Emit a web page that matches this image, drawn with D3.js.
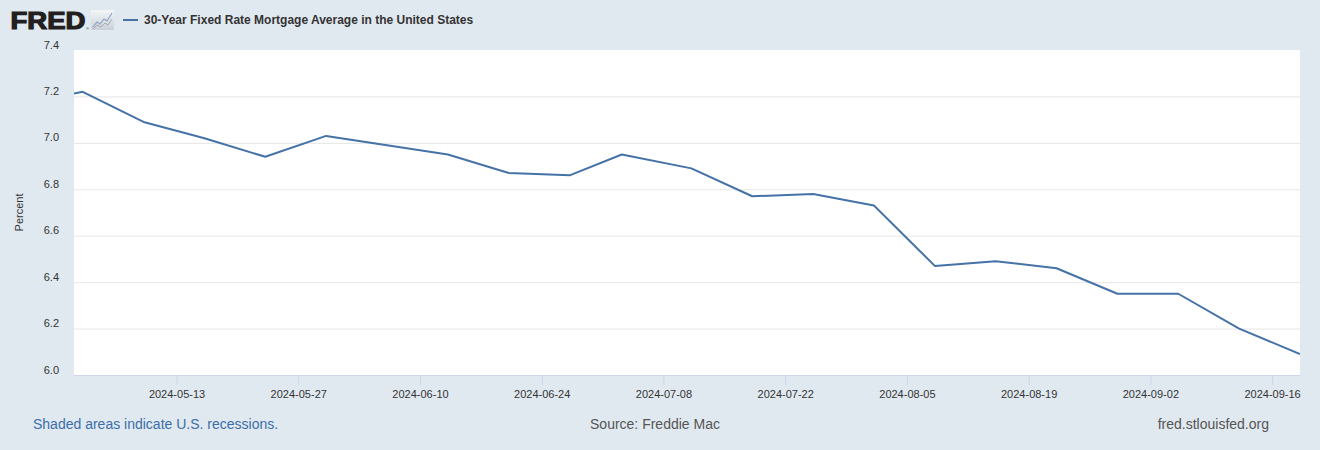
<!DOCTYPE html>
<html>
<head>
<meta charset="utf-8">
<script src="https://cdn.jsdelivr.net/npm/d3@7"></script>
<style>
    html, body { margin: 0; padding: 0; background: #e1e9f0; }
    svg { display: block; font-family: "Liberation Sans", Arial, sans-serif; }
</style>
</head>
<body>
<div id="chart"></div>
<script>
// weekly observations (first one sits left of the visible range and gets clipped)
const dates = [
    '2024-04-25', '2024-05-02', '2024-05-09', '2024-05-16', '2024-05-23', '2024-05-30',
    '2024-06-06', '2024-06-13', '2024-06-20', '2024-06-27', '2024-07-03', '2024-07-11',
    '2024-07-18', '2024-07-25', '2024-08-01', '2024-08-08', '2024-08-15', '2024-08-22',
    '2024-08-29', '2024-09-05', '2024-09-12', '2024-09-19'
];
const rates = [
    7.17, 7.22, 7.09, 7.02, 6.94, 7.03,
    6.99, 6.95, 6.87, 6.86, 6.95, 6.89,
    6.77, 6.78, 6.73, 6.47, 6.49, 6.46,
    6.35, 6.35, 6.20, 6.09
];
const xTickLabels = [
    '2024-05-13', '2024-05-27', '2024-06-10', '2024-06-24', '2024-07-08',
    '2024-07-22', '2024-08-05', '2024-08-19', '2024-09-02', '2024-09-16'
];
const yTickValues = [6.0, 6.2, 6.4, 6.6, 6.8, 7.0, 7.2, 7.4];
const xDomain = ['2024-05-01', '2024-09-19'];

const seriesName = '30-Year Fixed Rate Mortgage Average in the United States';
const lineColor = '#4572a7';

const width = 1320;
const height = 450;
const margin = { top: 50, right: 20, bottom: 75, left: 74 };
const parse = d3.utcParse('%Y-%m-%d');
// FRED puts the ticks on local (US Central) midnight, a few hours before the points
const tickShiftHours = 5;

const data = dates.map((d, i) => ({ date: parse(d), value: rates[i] }));

const x = d3.scaleUtc()
    .domain(xDomain.map(parse))
    .range([margin.left, width - margin.right]);
const y = d3.scaleLinear()
    .domain([6.0, 7.4])
    .range([height - margin.bottom, margin.top]);

const svg = d3.select('#chart').append('svg')
    .attr('width', width)
    .attr('height', height);

svg.append('rect')
    .attr('width', width)
    .attr('height', height)
    .attr('fill', '#e1e9f0');

// plot background
svg.append('rect')
    .attr('x', margin.left)
    .attr('y', margin.top)
    .attr('width', width - margin.left - margin.right)
    .attr('height', height - margin.top - margin.bottom)
    .attr('fill', '#ffffff');

svg.append('clipPath')
    .attr('id', 'plot-clip')
    .append('rect')
    .attr('x', margin.left)
    .attr('y', margin.top - 5)
    .attr('width', width - margin.left - margin.right)
    .attr('height', height - margin.top - margin.bottom + 5);

// gridlines + y labels
const yAxis = d3.axisLeft(y)
    .tickValues(yTickValues)
    .tickFormat(d3.format('.1f'))
    .tickSize(-(width - margin.left - margin.right))
    .tickPadding(15);

const yG = svg.append('g')
    .attr('transform', `translate(${margin.left},0)`)
    .call(yAxis);
yG.select('.domain').remove();
yG.selectAll('.tick line')
    .attr('stroke', '#e6e6e6')
    .attr('stroke-width', 1)
    .attr('display', d => (d === 6.0 || d === 7.4) ? 'none' : null);
yG.selectAll('.tick text')
    .attr('fill', '#333333')
    .attr('font-size', 11)
    .attr('dy', null)
    .attr('y', -2);

svg.append('text')
    .attr('transform', `translate(23,${(margin.top + height - margin.bottom) / 2}) rotate(-90)`)
    .attr('text-anchor', 'middle')
    .attr('font-size', 11)
    .attr('fill', '#333333')
    .text('Percent');

// x axis
const xAxis = d3.axisBottom(x)
    .tickValues(xTickLabels.map(d => d3.utcHour.offset(parse(d), -tickShiftHours)))
    .tickFormat((d, i) => xTickLabels[i])
    .tickSize(10)
    .tickPadding(5);

const xG = svg.append('g')
    .attr('transform', `translate(0,${height - margin.bottom})`)
    .call(xAxis);
xG.select('.domain')
    .attr('stroke', '#ccd6eb')
    .attr('d', `M${margin.left},0.5H${width - margin.right}`);
xG.selectAll('.tick line').attr('stroke', '#ccd6eb');
xG.selectAll('.tick text')
    .attr('fill', '#333333')
    .attr('font-size', 11);

// series
const line = d3.line()
    .x(d => x(d.date))
    .y(d => y(d.value));

svg.append('path')
    .datum(data)
    .attr('clip-path', 'url(#plot-clip)')
    .attr('fill', 'none')
    .attr('stroke', lineColor)
    .attr('stroke-width', 2)
    .attr('stroke-linejoin', 'round')
    .attr('d', line);

// header: logo + legend
const header = svg.append('g');
header.append('text')
    .attr('x', 10.5)
    .attr('y', 29)
    .attr('font-size', 24)
    .attr('font-weight', 'bold')
    .attr('fill', '#231f20')
    .attr('stroke', '#231f20')
    .attr('stroke-width', 1.2)
    .attr('textLength', 75)
    .attr('lengthAdjust', 'spacingAndGlyphs')
    .text('FRED');
header.append('text')
    .attr('x', 86)
    .attr('y', 30)
    .attr('font-size', 4)
    .attr('fill', '#231f20')
    .text('®');

const grad = svg.append('defs').append('linearGradient')
    .attr('id', 'icon-grad')
    .attr('x1', 0).attr('y1', 0).attr('x2', 0).attr('y2', 1);
grad.append('stop').attr('offset', 0).attr('stop-color', '#f4f6f8');
grad.append('stop').attr('offset', 1).attr('stop-color', '#c9d0d8');

header.append('rect')
    .attr('x', 91).attr('y', 10)
    .attr('width', 23).attr('height', 20)
    .attr('rx', 1)
    .attr('fill', 'url(#icon-grad)');
header.append('path')
    .attr('d', 'M93,27 L97,22 L100,24 L104,19 L107,21 L112,13')
    .attr('fill', 'none')
    .attr('stroke', '#8da4c4')
    .attr('stroke-width', 1.2);
header.append('path')
    .attr('d', 'M93,29 L97,25 L101,27 L105,23 L108,25 L112,19')
    .attr('fill', 'none')
    .attr('stroke', '#a4a9b0')
    .attr('stroke-width', 1);

header.append('line')
    .attr('x1', 123).attr('x2', 138)
    .attr('y1', 20).attr('y2', 20)
    .attr('stroke', lineColor)
    .attr('stroke-width', 2);
header.append('text')
    .attr('x', 144)
    .attr('y', 24)
    .attr('font-size', 12)
    .attr('font-weight', 'bold')
    .attr('fill', '#333333')
    .text(seriesName);

// footer
svg.append('text')
    .attr('x', 33)
    .attr('y', 429)
    .attr('font-size', 14)
    .attr('fill', '#3b6ea8')
    .text('Shaded areas indicate U.S. recessions.');
svg.append('text')
    .attr('x', 655)
    .attr('y', 429)
    .attr('text-anchor', 'middle')
    .attr('font-size', 14)
    .attr('fill', '#555555')
    .text('Source: Freddie Mac');
svg.append('text')
    .attr('x', 1269)
    .attr('y', 429)
    .attr('text-anchor', 'end')
    .attr('font-size', 14)
    .attr('fill', '#555555')
    .text('fred.stlouisfed.org');
</script>
</body>
</html>
